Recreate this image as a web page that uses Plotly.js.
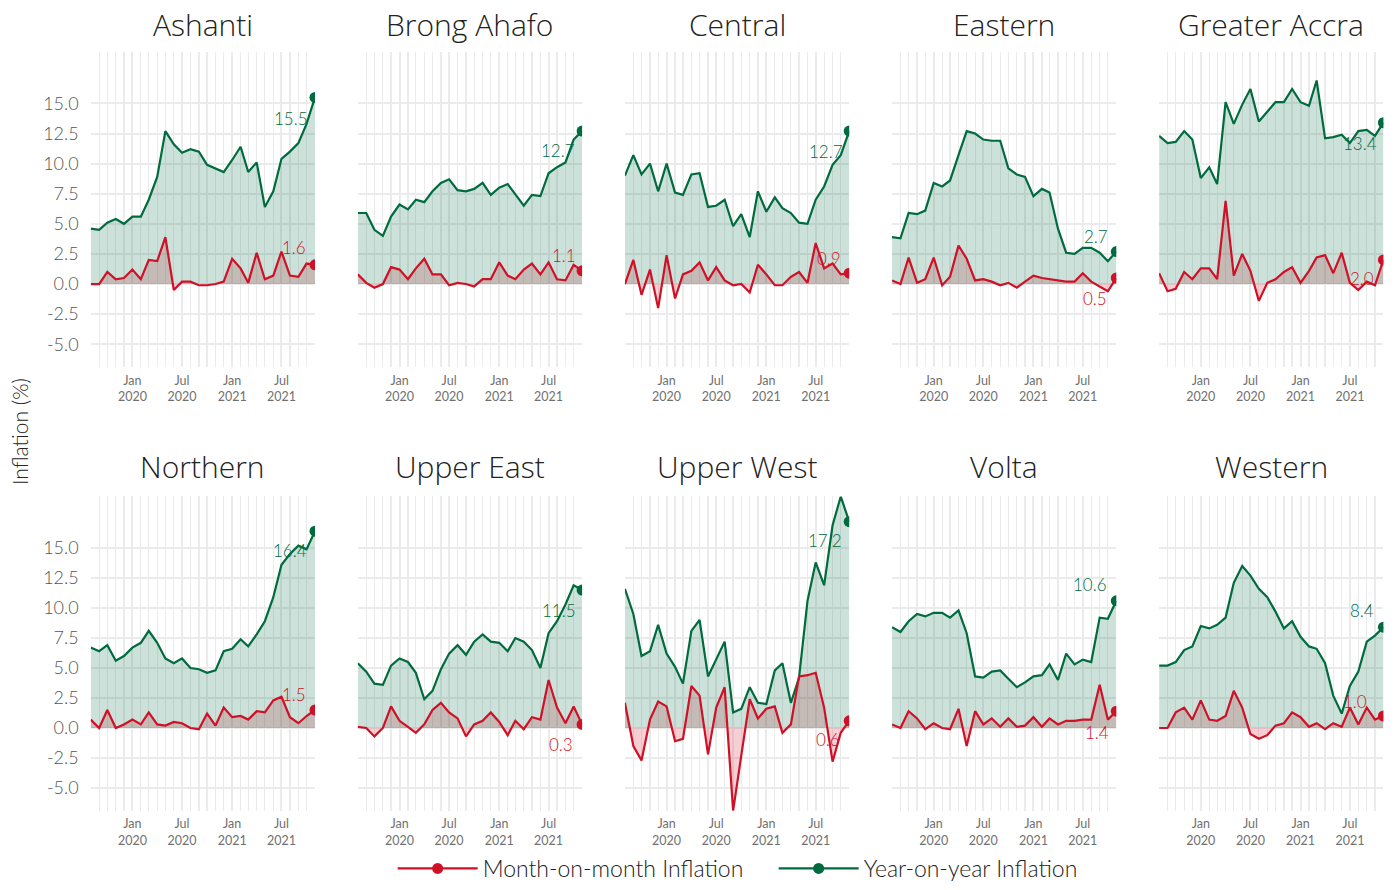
<!DOCTYPE html>
<html><head><meta charset="utf-8">
<script src="https://cdn.plot.ly/plotly-3.0.1.min.js"></script>
<style>html,body{margin:0;padding:0;background:#fff}#chart{width:1399px;height:890px}</style>
</head><body><div id="chart"></div>
<script>
const months = ['2019-08-01','2019-09-01','2019-10-01','2019-11-01','2019-12-01',
  '2020-01-01','2020-02-01','2020-03-01','2020-04-01','2020-05-01','2020-06-01','2020-07-01',
  '2020-08-01','2020-09-01','2020-10-01','2020-11-01','2020-12-01',
  '2021-01-01','2021-02-01','2021-03-01','2021-04-01','2021-05-01','2021-06-01','2021-07-01',
  '2021-08-01','2021-09-01','2021-10-01','2021-11-01'];

const regions = ['Ashanti','Brong Ahafo','Central','Eastern','Greater Accra',
                 'Northern','Upper East','Upper West','Volta','Western'];

const ashantiYoY = [4.6,4.5,5.1,5.4,5.0,5.6,5.6,7.0,8.9,12.7,11.6,10.9,11.2,11.0,9.9,9.6,9.3,10.3,11.4,9.3,10.1,6.4,7.7,10.4,11.0,11.7,13.3,15.5];
const ashantiMoM = [0.0,0.0,1.0,0.4,0.5,1.2,0.4,2.0,1.9,3.9,-0.5,0.2,0.2,-0.1,-0.1,0.0,0.2,2.1,1.3,0.1,2.6,0.4,0.7,2.7,0.7,0.6,1.7,1.6];
const brongYoY = [5.9,5.9,4.5,4.0,5.6,6.6,6.2,7.0,6.8,7.7,8.4,8.7,7.8,7.7,7.9,8.4,7.4,8.0,8.3,7.4,6.5,7.4,7.3,9.2,9.7,10.1,12.0,12.7];
const brongMoM = [0.8,0.1,-0.3,0.0,1.4,1.2,0.4,1.3,2.1,0.8,0.8,-0.1,0.1,0.0,-0.2,0.4,0.4,1.8,0.7,0.4,1.2,1.7,0.8,1.8,0.4,0.3,1.6,1.1];
const centralYoY = [9.0,10.7,9.1,10.0,7.7,10.0,7.6,7.4,9.1,9.2,6.4,6.5,7.0,4.8,5.8,3.9,7.7,6.0,7.2,6.3,5.9,5.1,5.0,7.0,8.1,9.9,10.7,12.7];
const centralMoM = [0.0,2.0,-0.9,1.2,-2.0,2.4,-1.2,0.8,1.1,1.8,0.3,1.4,0.3,-0.1,0.0,-0.7,1.6,0.8,-0.1,-0.1,0.6,1.0,0.1,3.4,1.3,1.7,0.8,0.9];
const easternYoY = [3.9,3.8,5.9,5.8,6.1,8.4,8.1,8.6,10.7,12.7,12.5,12.0,11.9,11.9,9.6,9.1,8.9,7.3,7.9,7.6,4.6,2.6,2.5,3.0,3.0,2.6,1.9,2.7];
const easternMoM = [0.3,0.0,2.2,0.1,0.4,2.2,-0.1,0.6,3.2,2.1,0.3,0.4,0.2,-0.1,0.1,-0.3,0.2,0.7,0.5,0.4,0.3,0.2,0.2,0.9,0.2,-0.2,-0.6,0.5];
const accraYoY = [12.3,11.7,11.8,12.7,12.0,8.8,9.7,8.3,15.1,13.3,14.9,16.2,13.5,14.3,15.1,15.1,16.2,15.1,14.8,16.9,12.1,12.2,12.4,11.7,12.7,12.8,12.3,13.4];
const accraMoM = [0.9,-0.6,-0.4,1.0,0.4,1.3,1.3,0.4,6.9,0.7,2.5,1.1,-1.4,0.1,0.4,1.0,1.4,0.1,1.1,2.2,2.4,0.9,2.6,0.1,-0.5,0.2,-0.1,2.0];
const northernYoY = [6.7,6.4,6.9,5.6,6.0,6.7,7.1,8.1,7.1,5.8,5.4,5.8,5.0,4.9,4.6,4.8,6.4,6.6,7.4,6.8,7.8,8.9,10.9,13.6,14.5,15.2,14.9,16.4];
const northernMoM = [0.7,0.0,1.5,0.0,0.3,0.7,0.3,1.3,0.3,0.2,0.5,0.4,0.0,-0.1,1.2,0.2,1.7,0.9,1.0,0.7,1.4,1.3,2.3,2.6,0.9,0.4,1.0,1.5];
const upperEastYoY = [5.4,4.7,3.7,3.6,5.2,5.8,5.5,4.6,2.4,3.1,4.9,6.2,6.9,6.1,7.2,7.8,7.2,7.1,6.4,7.5,7.2,6.5,5.0,7.9,8.9,10.3,11.9,11.5];
const upperEastMoM = [0.1,0.0,-0.7,0.0,1.8,0.6,0.1,-0.4,0.3,1.5,2.1,1.3,0.8,-0.7,0.3,0.6,1.3,0.5,-0.6,0.6,-0.1,0.9,0.7,4.0,1.7,0.4,1.8,0.3];
const upperWestYoY = [11.6,9.5,6.0,6.4,8.6,6.2,5.1,3.7,8.1,9.0,4.3,5.8,7.2,1.3,1.6,3.4,2.1,2.0,4.8,5.4,2.1,4.2,10.6,13.8,11.9,16.9,19.3,17.2];
const upperWestMoM = [2.1,-1.5,-2.7,0.7,2.2,1.8,-1.1,-0.9,3.5,2.7,-2.2,1.7,3.4,-6.9,-2.3,2.4,0.8,1.6,1.8,-0.4,0.3,4.3,4.4,4.6,1.7,-2.8,-0.4,0.6];
const voltaYoY = [8.4,8.0,8.9,9.5,9.3,9.6,9.6,9.2,9.8,7.9,4.3,4.2,4.7,4.8,4.1,3.4,3.8,4.3,4.4,5.3,4.0,6.2,5.3,5.7,5.5,9.2,9.1,10.6];
const voltaMoM = [0.3,0.0,1.4,0.8,-0.1,0.4,0.0,-0.1,1.6,-1.5,1.4,0.3,0.8,0.1,0.8,0.1,0.2,0.9,0.1,0.8,0.3,0.6,0.6,0.7,0.7,3.6,0.7,1.4];
const westernYoY = [5.2,5.2,5.5,6.5,6.8,8.5,8.3,8.6,9.2,12.1,13.5,12.7,11.6,10.9,9.7,8.3,8.9,7.6,6.8,6.6,5.4,2.7,1.2,3.5,4.7,7.2,7.7,8.4];
const westernMoM = [0.0,0.0,1.3,1.7,0.7,2.3,0.7,0.6,1.0,3.1,1.7,-0.5,-0.9,-0.6,0.2,0.4,1.3,0.9,0.1,0.4,-0.1,0.4,0.1,1.7,0.3,1.7,0.7,1.0];

const yoySeries = [ashantiYoY, brongYoY, centralYoY, easternYoY, accraYoY,
                   northernYoY, upperEastYoY, upperWestYoY, voltaYoY, westernYoY];
const momSeries = [ashantiMoM, brongMoM, centralMoM, easternMoM, accraMoM,
                   northernMoM, upperEastMoM, upperWestMoM, voltaMoM, westernMoM];

const yTickVals = [-5, -2.5, 0, 2.5, 5, 7.5, 10, 12.5, 15];
const yTickText = ['-5.0','-2.5','0.0','2.5','5.0','7.5','10.0','12.5','15.0'];
const xTickVals = ['2020-01-01','2020-07-01','2021-01-01','2021-07-01'];
const xTickText = ['Jan<br>2020','Jul<br>2020','Jan<br>2021','Jul<br>2021'];
const seriesNames = ['Month-on-month Inflation','Year-on-year Inflation'];

// label pixel offsets (styling only): [dx, dy] for YoY and MoM end labels
const yoyLabelOffset = [[-24,21],[-24,19],[-23,20],[-20,-15],[-23,21],[-25,19],[-23,20],[-24,19],[-26,-16],[-21,-17]];
const momLabelOffset = [[-21,-17],[-18,-15],[-20,-15],[-21,20],[-21,19],[-21,-16],[-21,20],[-21,19],[-19,21],[-28,-15]];

const GREEN = '#006B3F', RED = '#CE1126';
const GREEN_FILL = 'rgba(0,107,63,0.2)', RED_FILL = 'rgba(206,17,38,0.2)';
const FONT = 'Lato, "Open Sans", "DejaVu Sans", sans-serif';
const TITLE_FONT = '"Open Sans", Lato, sans-serif';
const W = 1399, H = 890;

const traces = [];
const layout = {
  width: W, height: H,
  margin: {l:0, r:0, t:0, b:0},
  paper_bgcolor: '#fff', plot_bgcolor: '#fff',
  font: {family: FONT, color: '#222'},
  showlegend: true,
  legend: {orientation:'h', x:0.553, xanchor:'center', y:0.0, yanchor:'bottom',
           font:{size:23, color:'#222', family: FONT, weight: 300}, entrywidth: 286, itemwidth: 80},
  annotations: [],
};

const yRowDomains = [[0.5875, 0.9420], [0.0890, 0.4422]];
const titleY = [0.9730, 0.4753];

regions.forEach((name, k) => {
  const r = Math.floor(k / 5), c = k % 5;
  const sfx = k === 0 ? '' : String(k + 1);
  const xa = 'x' + sfx, ya = 'y' + sfx;
  const x0 = 90.7 + 267.1 * c, x1 = x0 + 224.3;
  const yoy = yoySeries[k], mom = momSeries[k];
  const last = months.length - 1;

  layout['xaxis' + sfx] = {
    domain: [x0 / W, x1 / W], anchor: ya, type: 'date',
    range: [months[0], months[last]],
    tickvals: xTickVals, ticktext: xTickText, ticks: '',
    tickfont: {size: 12.5, color: '#707070', family: FONT},
    ticklabelstandoff: 4,
    showgrid: true, gridcolor: '#ebebeb', gridwidth: 2,
    minor: {dtick: 'M1', tick0: months[0], showgrid: true, gridcolor: '#ebebeb', gridwidth: 1.2, ticks: ''},
    zeroline: false, showline: false, fixedrange: true,
  };
  layout['yaxis' + sfx] = {
    domain: yRowDomains[r], anchor: xa,
    range: [-6.9, 19.3],
    tickvals: yTickVals, ticktext: yTickText, ticks: '',
    showticklabels: c === 0,
    tickfont: {size: 18, color: '#555', family: FONT, weight: 300},
    ticklabelstandoff: 11,
    showgrid: true, gridcolor: '#ebebeb', gridwidth: 2,
    zeroline: false, showline: false, fixedrange: true,
  };

  // area fills: MoM first, YoY over it
  traces.push({x: months, y: mom, xaxis: xa, yaxis: ya, type: 'scatter', mode: 'lines',
    line: {width: 0, color: RED}, fill: 'tozeroy', fillcolor: RED_FILL, showlegend: false, hoverinfo: 'skip'});
  traces.push({x: months, y: yoy, xaxis: xa, yaxis: ya, type: 'scatter', mode: 'lines',
    line: {width: 0, color: GREEN}, fill: 'tozeroy', fillcolor: GREEN_FILL, showlegend: false, hoverinfo: 'skip'});
  // lines
  traces.push({x: months, y: yoy, xaxis: xa, yaxis: ya, type: 'scatter', mode: 'lines',
    line: {width: 2.2, color: GREEN}, showlegend: false});
  traces.push({x: months, y: mom, xaxis: xa, yaxis: ya, type: 'scatter', mode: 'lines',
    line: {width: 2.2, color: RED}, showlegend: false});
  // end points
  traces.push({x: [months[last]], y: [mom[last]], xaxis: xa, yaxis: ya, type: 'scatter', mode: 'lines+markers',
    name: seriesNames[0], legendrank: 1,
    line: {width: 2.2, color: RED}, marker: {size: 11, color: RED}, showlegend: k === 0});
  traces.push({x: [months[last]], y: [yoy[last]], xaxis: xa, yaxis: ya, type: 'scatter', mode: 'lines+markers',
    name: seriesNames[1], legendrank: 2,
    line: {width: 2.2, color: GREEN}, marker: {size: 11, color: GREEN}, showlegend: k === 0});

  // end labels
  layout.annotations.push({xref: xa, yref: ya, x: months[last], y: yoy[last],
    text: yoy[last].toFixed(1), showarrow: false,
    xshift: yoyLabelOffset[k][0], yshift: -yoyLabelOffset[k][1],
    font: {size: 17, color: GREEN, family: FONT, weight: 300}});
  layout.annotations.push({xref: xa, yref: ya, x: months[last], y: mom[last],
    text: mom[last].toFixed(1), showarrow: false,
    xshift: momLabelOffset[k][0], yshift: -momLabelOffset[k][1],
    font: {size: 17, color: RED, family: FONT, weight: 300}});

  // panel title
  layout.annotations.push({xref: 'paper', yref: 'paper', x: (x0 + x1) / 2 / W, y: titleY[r],
    xanchor: 'center', yanchor: 'middle', text: name, showarrow: false,
    font: {size: 30, color: '#222', family: TITLE_FONT, weight: 300}});
});

layout.annotations.push({xref: 'paper', yref: 'paper', x: 20 / W, y: 1 - 432 / H,
  xanchor: 'center', yanchor: 'middle', text: 'Inflation (%)', textangle: -90, showarrow: false,
  font: {size: 21, color: '#222', family: FONT, weight: 300}});

Plotly.newPlot('chart', traces, layout, {displayModeBar: false, staticPlot: true});
</script>
</body></html>
